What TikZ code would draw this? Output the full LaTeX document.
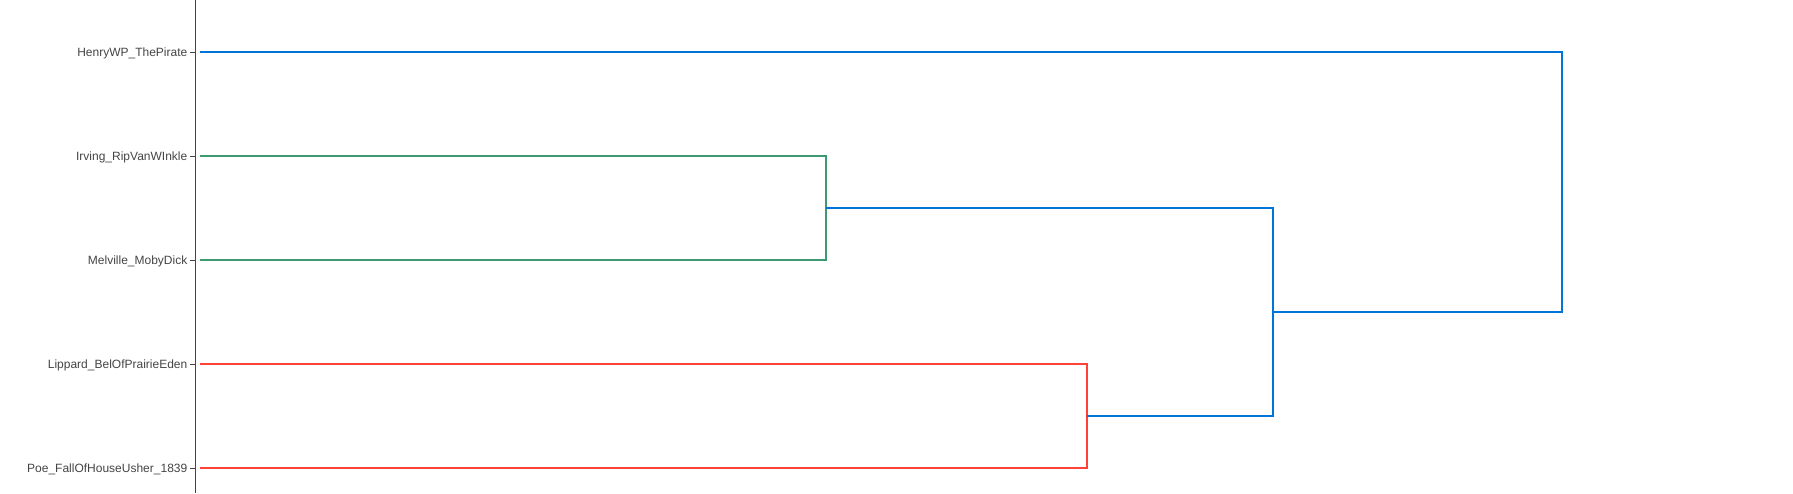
\documentclass[tikz,border=0pt]{standalone}
\usepackage{fontspec}
\setmainfont{Liberation Sans}
\definecolor{dgreen}{RGB}{61,153,112}
\definecolor{dred}{RGB}{255,65,54}
\definecolor{dblue}{RGB}{0,116,217}
\definecolor{axisgray}{RGB}{68,68,68}
\begin{document}
\begin{tikzpicture}[x=1pt,y=-1pt,
  leaflabel/.style={anchor=base east,inner sep=0pt,font=\fontsize{12}{14}\selectfont,text=axisgray},
  tickline/.style={draw=axisgray,line width=1pt},
  link/.style={line width=2pt},
]
\useasboundingbox (0,0) rectangle (1793,493);
% axis
\coordinate (axtop) at (195.5,0);
\coordinate (axbot) at (195.5,493);
\draw[draw=axisgray,line width=1pt] (axtop) -- (axbot);
% leaves
\foreach \n/\y/\t in {a/52/HenryWP\_ThePirate,b/156/Irving\_RipVanWInkle,c/260/Melville\_MobyDick,d/364/Lippard\_BelOfPrairieEden,e/468/Poe\_FallOfHouseUsher\_1839}{
  \node[leaflabel] (l\n) at (187.5,\y+4.4) {\t};
  \coordinate (t\n) at (190,\y);
  \coordinate (s\n) at (195,\y);
  \coordinate (p\n) at (200,\y);
  \draw[tickline] (t\n) -- (s\n);
}
% join points
\coordinate (g1) at (826.3,156);
\coordinate (g2) at (826.3,260);
\coordinate (gm) at (826.3,208);
\coordinate (r1) at (1086.7,364);
\coordinate (r2) at (1086.7,468);
\coordinate (rm) at (1086.7,416);
\coordinate (b1) at (1272.7,208);
\coordinate (b2) at (1272.7,416);
\coordinate (bm) at (1272.7,312);
\coordinate (top1) at (1561.7,52);
\coordinate (top2) at (1561.7,312);
% green cluster
\draw[link,dgreen] (pb) -- (g1) -- (g2) -- (pc);
% red cluster
\draw[link,dred] (pd) -- (r1) -- (r2) -- (pe);
% blue links
\draw[link,dblue] (gm) -- (b1) -- (b2) -- (rm);
\draw[link,dblue] (pa) -- (top1) -- (top2) -- (bm);
\end{tikzpicture}
\end{document}
